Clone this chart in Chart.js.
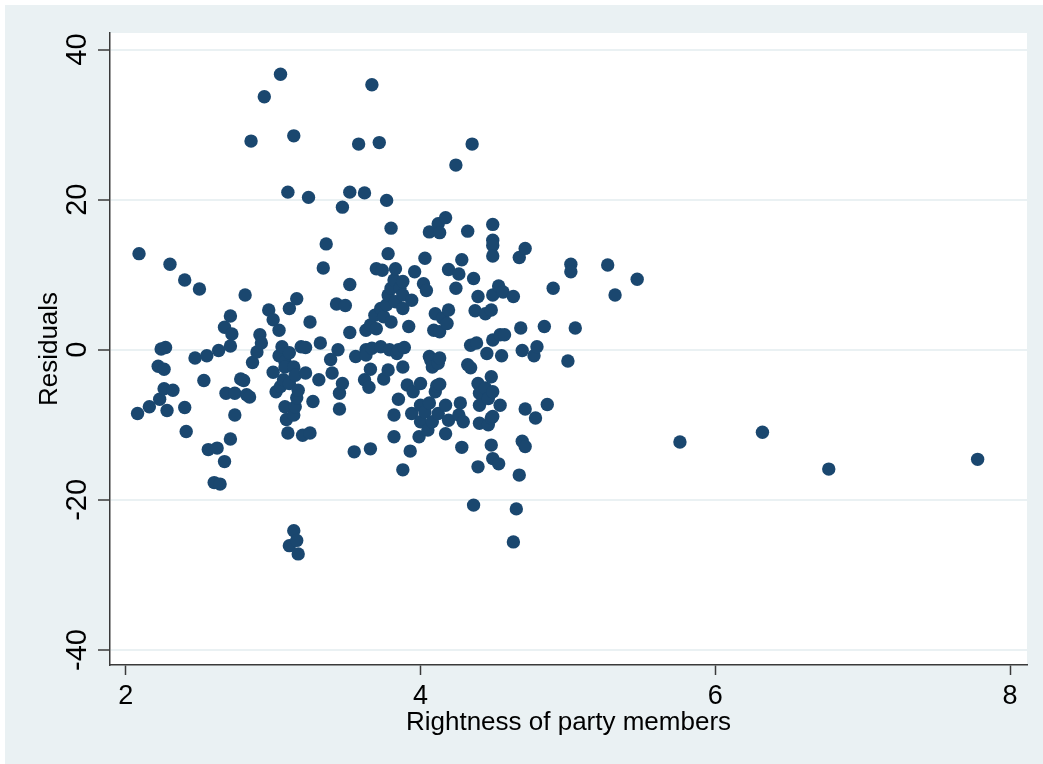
<!DOCTYPE html>
<html>
<head>
<meta charset="utf-8">
<script src="https://cdn.jsdelivr.net/npm/chart.js@4.4.1/dist/chart.umd.min.js"></script>
<style>
  html, body { margin: 0; padding: 0; background: #ffffff; overflow: hidden; }
  #wrap { width: 1043px; height: 764px; overflow: hidden; }
  #chart { display: block; }
</style>
</head>
<body>
<div id="wrap"><canvas id="chart" width="1043" height="764"></canvas></div>
<script>
// Rightness of party members (x) against regression residuals (y)
const rightness = [
  2.08, 2.09, 2.16, 2.22, 2.23, 2.24, 2.26, 2.26, 2.27, 2.28,
  2.30, 2.32, 2.40, 2.40, 2.41, 2.47, 2.50, 2.53, 2.55, 2.56,
  2.60, 2.62, 2.63, 2.64, 2.67, 2.67, 2.68, 2.71, 2.71, 2.71,
  2.72, 2.74, 2.74, 2.78, 2.80, 2.81, 2.82, 2.84, 2.85, 2.86,
  2.89, 2.91, 2.92, 2.94, 2.97,
  3.00, 3.00, 3.02, 3.04, 3.04, 3.05, 3.05, 3.06, 3.07, 3.08,
  3.08, 3.08, 3.09, 3.10, 3.10, 3.11, 3.11, 3.11, 3.11, 3.14,
  3.14, 3.14, 3.14, 3.15, 3.15, 3.16, 3.16, 3.16, 3.17, 3.17,
  3.19, 3.20, 3.22, 3.22, 3.24, 3.25, 3.25, 3.27, 3.31, 3.32,
  3.34, 3.36, 3.39, 3.40, 3.43, 3.44, 3.45, 3.45, 3.47, 3.47,
  3.49, 3.52, 3.52, 3.52, 3.55,
  3.56, 3.58, 3.62, 3.62, 3.63, 3.63, 3.63, 3.65, 3.66, 3.66,
  3.66, 3.67, 3.67, 3.69, 3.70, 3.70, 3.72, 3.73, 3.73, 3.74,
  3.75, 3.75, 3.77, 3.77, 3.78, 3.78, 3.78, 3.79, 3.80, 3.80,
  3.80, 3.82, 3.82, 3.82, 3.83, 3.83, 3.84, 3.85, 3.85, 3.86,
  3.88, 3.88, 3.88, 3.88, 3.88, 3.89, 3.91, 3.92, 3.93, 3.94,
  3.94, 3.95, 3.96, 3.99,
  4.00, 4.00, 4.00, 4.02, 4.03, 4.03, 4.04, 4.05, 4.06, 4.06,
  4.06, 4.07, 4.08, 4.08, 4.09, 4.10, 4.10, 4.11, 4.12, 4.12,
  4.12, 4.13, 4.13, 4.13, 4.13, 4.15, 4.17, 4.17, 4.17, 4.18,
  4.19, 4.19, 4.19, 4.24, 4.24, 4.26, 4.26, 4.27, 4.28, 4.28,
  4.29, 4.32, 4.32, 4.34, 4.34, 4.35, 4.36, 4.36, 4.37, 4.38,
  4.39, 4.39, 4.39, 4.40, 4.40, 4.40, 4.44, 4.44, 4.45, 4.46,
  4.46, 4.48, 4.48, 4.48, 4.48, 4.49, 4.49, 4.49, 4.49, 4.49,
  4.49, 4.49, 4.49, 4.49,
  4.53, 4.53, 4.54, 4.54, 4.55, 4.56, 4.57, 4.63, 4.63, 4.65,
  4.67, 4.67, 4.68, 4.69, 4.69, 4.71, 4.71, 4.71, 4.77, 4.78,
  4.79, 4.84, 4.86, 4.90, 5.00, 5.02, 5.02, 5.05, 5.27, 5.32,
  5.47, 5.76, 6.32, 6.77, 7.78
];
const residuals = [
  -8.5, 12.8, -7.6, -2.2, -6.6, 0.1, -2.6, -5.2, 0.3, -8.1,
  11.4, -5.4, 9.3, -7.7, -10.9, -1.1, 8.1, -4.1, -0.8, -13.3,
  -17.7, -13.1, -0.1, -17.9, 3.0, -14.9, -5.8, 4.5, 0.5, -11.9,
  2.1, -5.8, -8.7, -3.9, -4.1, 7.3, -6.0, -6.3, 27.8, -1.7,
  -0.3, 2.0, 0.9, 33.7, 5.3,
  4.0, -3.0, -5.6, 2.6, -0.8, 36.7, -4.9, 0.4, -4.0, -1.6,
  -2.3, -7.6, -9.3, 21.0, -11.1, -0.4, 5.5, -4.5, -26.1, 28.5,
  -2.3, -8.7, -24.1, -3.4, -7.6, 6.8, -6.4, -25.4, -5.4, -27.2,
  0.4, -11.4, 0.3, -3.1, 20.3, 3.7, -11.1, -6.9, -4.0, 0.9,
  10.9, 14.1, -1.3, -3.1, 6.1, 0.0, -5.8, -7.9, 19.0, -4.5,
  5.9, 21.0, 8.7, 2.3, -13.6,
  -0.9, 27.4, 20.9, -4.0, 0.0, -0.7, 2.6, -5.0, 3.3, -2.6,
  -13.2, 35.3, 0.2, 4.6, 2.8, 10.8, 27.6, 0.4, 5.5, 10.6,
  4.4, -3.9, 19.9, 6.0, 12.8, 7.3, -2.7, 0.0, 3.7, 8.2,
  16.2, 9.3, -8.7, -11.6, 6.4, 10.8, -0.5, 0.0, -6.6, 8.2,
  9.1, 7.3, 5.5, -2.3, -16.0, 0.3, -4.7, 3.1, -13.5, 6.6,
  -8.5, -5.6, 10.4, -11.6,
  -4.5, -7.4, -9.6, 8.8, 12.2, -8.3, 7.9, -10.7, 15.7, -7.1,
  -0.9, -1.4, -2.3, -9.6, 2.6, 4.8, -5.6, -4.8, 16.8, -1.8,
  -8.5, 15.6, -1.1, -4.6, 2.4, 4.2, 17.6, -7.4, -11.2, 3.5,
  5.3, 10.7, -9.4, 24.6, 8.2, 10.1, -8.7, -7.1, 12.0, -13.0,
  -9.6, 15.8, -2.0, -2.4, 0.6, 27.4, 9.5, -20.7, 5.2, 0.9,
  7.1, -4.5, -15.6, -5.8, -7.4, -9.8, 4.8, -5.1, -0.5, -6.5,
  -10.0, 5.3, -3.6, -9.1, -12.7, 16.7, 14.6, 13.9, 12.5, 7.3,
  1.3, -5.6, -8.9, -14.5,
  8.5, -15.2, 2.0, -7.4, -0.8, 7.7, 2.0, 7.1, -25.6, -21.2,
  12.3, -16.7, 2.9, -0.1, -12.2, 13.5, -7.9, -12.9, -0.8, -9.1,
  0.4, 3.1, -7.3, 8.2, -1.5, 11.4, 10.4, 2.9, 11.3, 7.3,
  9.4, -12.3, -11.0, -15.9, -14.6
];
const xTicks = [2, 4, 6, 8];
const yTicks = [-40, -20, 0, 20, 40];
const yTickLabels = ['-40', '-20', '0', '20', '40'];

const NAVY = '#1a476f';
const BLUISH = '#eaf1f3';
const AXIS = '#3a3a3a';
const FONT = "'Liberation Sans', Arial, sans-serif";

const points = rightness.map((x, i) => ({ x: x, y: residuals[i] }));

// Outer graph region, white plot region
const backdrop = {
  id: 'backdrop',
  beforeDraw(chart) {
    const { ctx, chartArea: a, width, height } = chart;
    ctx.save();
    ctx.fillStyle = '#ffffff';
    ctx.fillRect(0, 0, width, height);
    ctx.fillStyle = BLUISH;
    ctx.fillRect(5, 5, width - 5, height - 5);
    ctx.fillStyle = '#ffffff';
    ctx.fillRect(a.left, a.top, a.right - a.left, a.bottom - a.top);
    ctx.restore();
  }
};

// Vertical-axis tick labels, turned to read upward
const yLabels = {
  id: 'yLabels',
  afterDraw(chart) {
    const { ctx } = chart;
    const ys = chart.scales.y;
    ctx.save();
    ctx.fillStyle = '#000000';
    ctx.font = '29px ' + FONT;
    ctx.textAlign = 'center';
    ctx.textBaseline = 'middle';
    yTicks.forEach((v, i) => {
      const py = ys.getPixelForValue(v);
      ctx.save();
      ctx.translate(77, py);
      ctx.rotate(-Math.PI / 2);
      ctx.fillText(yTickLabels[i], 0, 1);
      ctx.restore();
    });
    ctx.restore();
  }
};

new Chart(document.getElementById('chart'), {
  type: 'scatter',
  data: {
    datasets: [{
      data: points,
      backgroundColor: NAVY,
      borderColor: NAVY,
      borderWidth: 0,
      pointRadius: 6.7,
      pointHoverRadius: 6.7
    }]
  },
  options: {
    responsive: false,
    animation: false,
    events: [],
    layout: { padding: { left: 5, top: 33, right: 16, bottom: 0 } },
    plugins: { legend: { display: false }, tooltip: { enabled: false } },
    scales: {
      x: {
        type: 'linear',
        min: 1.893,
        max: 8.115,
        afterBuildTicks(s) { s.ticks = xTicks.map(v => ({ value: v })); },
        afterFit(s) { s.height = 99; },
        grid: {
          drawOnChartArea: false,
          color: 'rgba(0,0,0,0)',
          tickColor: AXIS,
          tickLength: 10,
          tickWidth: 1.5
        },
        border: { color: AXIS, width: 1.5 },
        ticks: {
          color: '#000000',
          font: { family: FONT, size: 27 },
          padding: 5,
          maxRotation: 0,
          callback: v => String(v)
        },
        title: {
          display: true,
          text: 'Rightness of party members',
          color: '#000000',
          font: { family: FONT, size: 26 },
          padding: { top: 0, bottom: 26 }
        }
      },
      y: {
        type: 'linear',
        min: -42.0,
        max: 42.2,
        afterBuildTicks(s) { s.ticks = yTicks.map(v => ({ value: v })); },
        afterFit(s) { s.width = 105; },
        grid: {
          color: BLUISH,
          lineWidth: 2,
          tickColor: AXIS,
          tickLength: 12,
          tickWidth: 1.5
        },
        border: { color: AXIS, width: 1.5 },
        ticks: { display: false },
        title: {
          display: true,
          text: 'Residuals',
          color: '#000000',
          font: { family: FONT, size: 26 },
          padding: { top: 29, bottom: 0 }
        }
      }
    }
  },
  plugins: [backdrop, yLabels]
});
</script>
</body>
</html>
